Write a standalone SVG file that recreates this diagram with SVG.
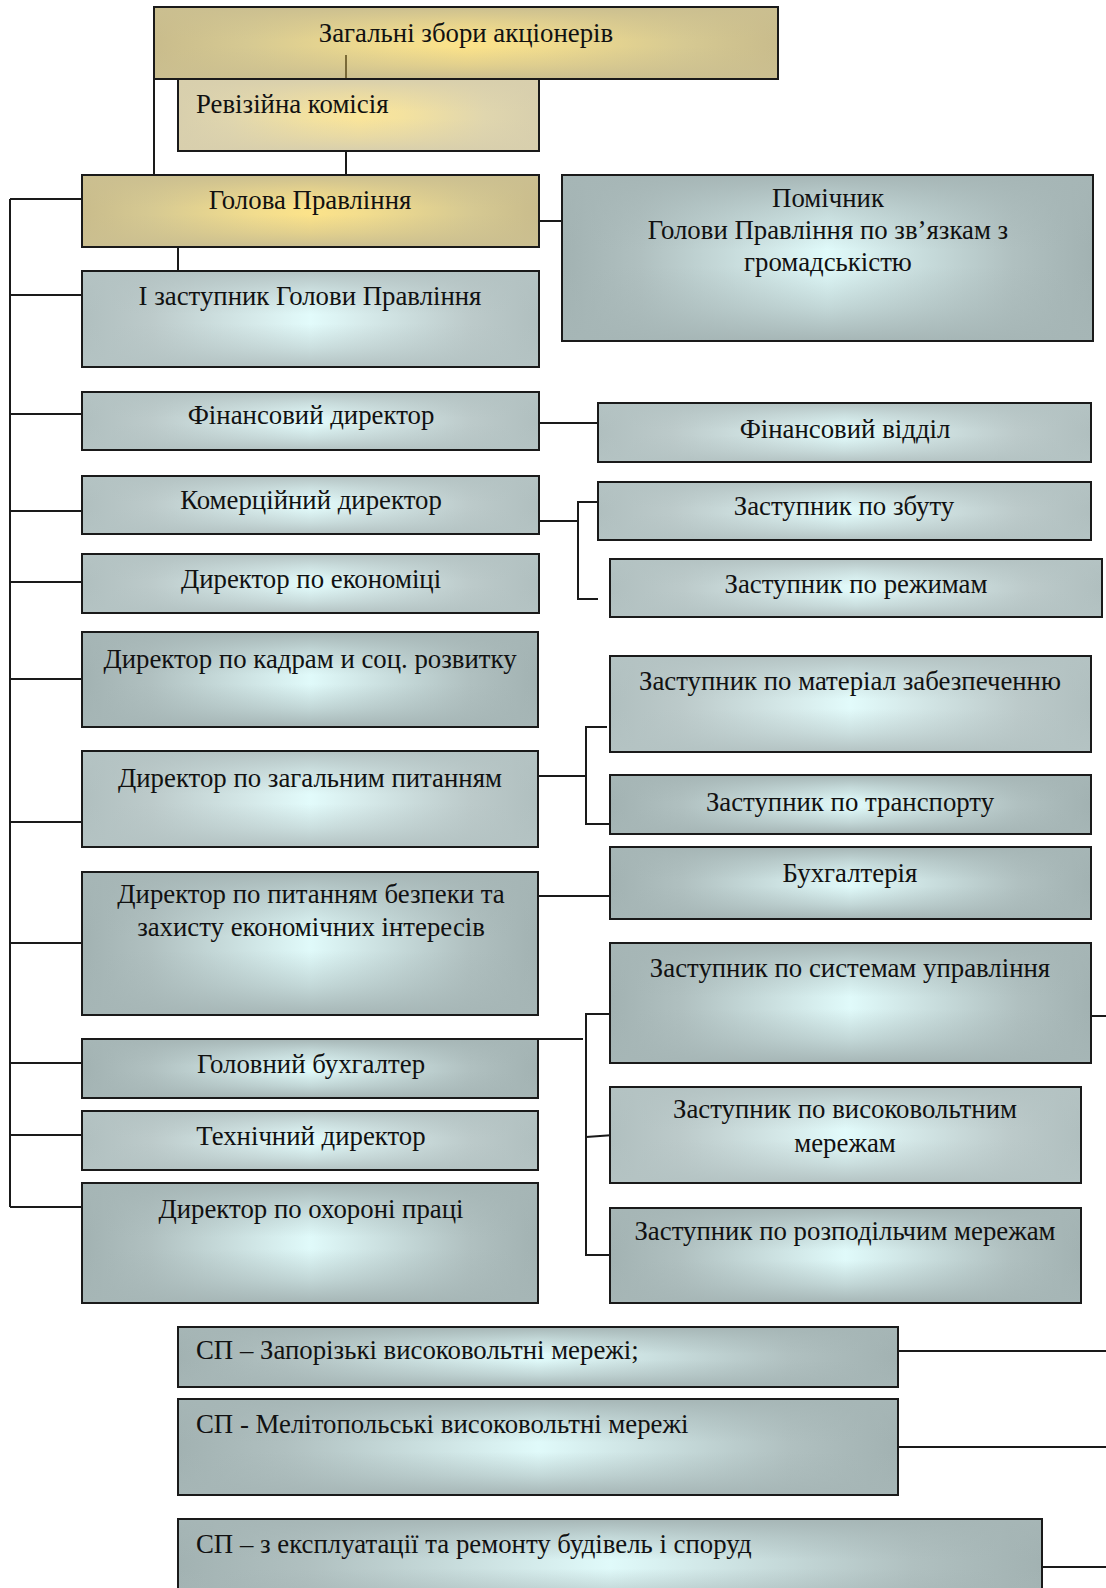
<svg xmlns="http://www.w3.org/2000/svg" width="1106" height="1588" viewBox="0 0 1106 1588">
<defs>
<linearGradient id="bh" x1="0" y1="0" x2="1" y2="0">
<stop offset="0" stop-color="#b0bfbf"/><stop offset="0.15" stop-color="#bccaca"/><stop offset="0.38" stop-color="#d6eaea"/><stop offset="0.5" stop-color="#e2fbfb"/><stop offset="0.62" stop-color="#d6eaea"/><stop offset="0.85" stop-color="#bccaca"/><stop offset="1" stop-color="#b0bfbf"/>
</linearGradient>
<linearGradient id="bv" x1="0" y1="0" x2="0" y2="1">
<stop offset="0" stop-color="#b4c3c3" stop-opacity="1"/><stop offset="0.2" stop-color="#b4c3c3" stop-opacity="0.5"/><stop offset="0.45" stop-color="#b4c3c3" stop-opacity="0"/><stop offset="0.55" stop-color="#b4c3c3" stop-opacity="0"/><stop offset="0.8" stop-color="#b4c3c3" stop-opacity="0.5"/><stop offset="1" stop-color="#b4c3c3" stop-opacity="1"/>
</linearGradient>
<linearGradient id="dh" x1="0" y1="0" x2="1" y2="0">
<stop offset="0" stop-color="#a2b2b2"/><stop offset="0.15" stop-color="#b0c0c0"/><stop offset="0.38" stop-color="#d0e6e6"/><stop offset="0.5" stop-color="#e0fafa"/><stop offset="0.62" stop-color="#d0e6e6"/><stop offset="0.85" stop-color="#b0c0c0"/><stop offset="1" stop-color="#a2b2b2"/>
</linearGradient>
<linearGradient id="dv" x1="0" y1="0" x2="0" y2="1">
<stop offset="0" stop-color="#a6b6b6" stop-opacity="1"/><stop offset="0.2" stop-color="#a6b6b6" stop-opacity="0.5"/><stop offset="0.45" stop-color="#a6b6b6" stop-opacity="0"/><stop offset="0.55" stop-color="#a6b6b6" stop-opacity="0"/><stop offset="0.8" stop-color="#a6b6b6" stop-opacity="0.5"/><stop offset="1" stop-color="#a6b6b6" stop-opacity="1"/>
</linearGradient>
<linearGradient id="gh" x1="0" y1="0" x2="1" y2="0">
<stop offset="0" stop-color="#c9bc8c"/><stop offset="0.15" stop-color="#d6c992"/><stop offset="0.38" stop-color="#f2dd8e"/><stop offset="0.5" stop-color="#fce38a"/><stop offset="0.62" stop-color="#f2dd8e"/><stop offset="0.85" stop-color="#d6c992"/><stop offset="1" stop-color="#c9bc8c"/>
</linearGradient>
<linearGradient id="gv" x1="0" y1="0" x2="0" y2="1">
<stop offset="0" stop-color="#cbbf90" stop-opacity="1"/><stop offset="0.2" stop-color="#cbbf90" stop-opacity="0.5"/><stop offset="0.45" stop-color="#cbbf90" stop-opacity="0"/><stop offset="0.55" stop-color="#cbbf90" stop-opacity="0"/><stop offset="0.8" stop-color="#cbbf90" stop-opacity="0.5"/><stop offset="1" stop-color="#cbbf90" stop-opacity="1"/>
</linearGradient>
<linearGradient id="lh" x1="0" y1="0" x2="1" y2="0">
<stop offset="0" stop-color="#d8cfad"/><stop offset="0.15" stop-color="#e0d6ae"/><stop offset="0.38" stop-color="#f4e29f"/><stop offset="0.5" stop-color="#fae59a"/><stop offset="0.62" stop-color="#f4e29f"/><stop offset="0.85" stop-color="#e0d6ae"/><stop offset="1" stop-color="#d8cfad"/>
</linearGradient>
<linearGradient id="lv" x1="0" y1="0" x2="0" y2="1">
<stop offset="0" stop-color="#d8cfad" stop-opacity="1"/><stop offset="0.2" stop-color="#d8cfad" stop-opacity="0.5"/><stop offset="0.45" stop-color="#d8cfad" stop-opacity="0"/><stop offset="0.55" stop-color="#d8cfad" stop-opacity="0"/><stop offset="0.8" stop-color="#d8cfad" stop-opacity="0.5"/><stop offset="1" stop-color="#d8cfad" stop-opacity="1"/>
</linearGradient>
</defs>
<style>
.b1{fill:url(#bh)}.b2{fill:url(#bv)}
.d1{fill:url(#dh)}.d2{fill:url(#dv)}
.g1{fill:url(#gh)}.g2{fill:url(#gv)}
.l1{fill:url(#lh)}.l2{fill:url(#lv)}
.f{stroke:#1a1a1a;stroke-width:2;fill:none}
text{font-family:"Liberation Serif","Times New Roman",serif;font-size:26.8px;fill:#111}
.c{text-anchor:middle}
.con{stroke:#1a1a1a;stroke-width:2;fill:none}
.ol{stroke:#5a4a1a;stroke-width:1.5;fill:none}
</style>
<rect width="1106" height="1588" fill="#ffffff"/>

<g id="connectors">
<path class="con" d="M10,199 V1207 M10,199 H82 M10,295 H82 M10,414 H82 M10,511 H82 M10,582 H82 M10,679 H82 M10,822 H82 M10,943 H82 M10,1063 H82 M10,1135 H82 M10,1207 H82"/>
<path class="con" d="M154,79 V175 M346,151 V175 M178,247 V271 M539,221 H562 M539,423 H598"/>
<path class="con" d="M539,521 H578 M598,502 H578 V599 H598"/>
<path class="con" d="M538,776 H586 M607,727 H586 V824 H609"/>
<path class="con" d="M538,896 H610"/>
<path class="con" d="M538,1039 H583 M610,1014 H586 V1255 H610 M586,1137 L614,1135"/>
<path class="con" d="M1091,1016 H1106 M898,1351 H1106 M898,1447 H1106 M1042,1567 H1106"/>
</g>

<g id="n1"><rect class="g1" x="154" y="7" width="624" height="72"/><rect class="g2" x="154" y="7" width="624" height="72"/><rect class="f" x="154" y="7" width="624" height="72"/><text class="c" x="466" y="42">Загальні збори акціонерів</text></g>
<path class="ol" d="M346,55 V79"/>
<g id="n2"><rect class="l1" x="178" y="79" width="361" height="72"/><rect class="l2" x="178" y="79" width="361" height="72"/><rect class="f" x="178" y="79" width="361" height="72"/><text x="196" y="113">Ревізійна комісія</text></g>
<g id="n3"><rect class="g1" x="82" y="175" width="457" height="72"/><rect class="g2" x="82" y="175" width="457" height="72"/><rect class="f" x="82" y="175" width="457" height="72"/><text class="c" x="310" y="209">Голова Правління</text></g>
<g id="n4"><rect class="d1" x="562" y="175" width="531" height="166"/><rect class="d2" x="562" y="175" width="531" height="166"/><rect class="f" x="562" y="175" width="531" height="166"/><text class="c" x="828" y="207">Помічник</text><text class="c" x="828" y="239">Голови Правління по зв’язкам з</text><text class="c" x="828" y="271">громадськістю</text></g>
<g id="n5"><rect class="b1" x="82" y="271" width="457" height="96"/><rect class="b2" x="82" y="271" width="457" height="96"/><rect class="f" x="82" y="271" width="457" height="96"/><text class="c" x="310" y="305">І заступник Голови Правління</text></g>
<g id="n6"><rect class="b1" x="82" y="392" width="457" height="58"/><rect class="b2" x="82" y="392" width="457" height="58"/><rect class="f" x="82" y="392" width="457" height="58"/><text class="c" x="311" y="424">Фінансовий директор</text></g>
<g id="n7"><rect class="b1" x="598" y="403" width="493" height="59"/><rect class="b2" x="598" y="403" width="493" height="59"/><rect class="f" x="598" y="403" width="493" height="59"/><text class="c" x="845" y="438">Фінансовий відділ</text></g>
<g id="n8"><rect class="b1" x="82" y="476" width="457" height="58"/><rect class="b2" x="82" y="476" width="457" height="58"/><rect class="f" x="82" y="476" width="457" height="58"/><text class="c" x="311" y="509">Комерційний директор</text></g>
<g id="n9"><rect class="b1" x="598" y="482" width="493" height="58"/><rect class="b2" x="598" y="482" width="493" height="58"/><rect class="f" x="598" y="482" width="493" height="58"/><text class="c" x="844" y="515">Заступник по збуту</text></g>
<g id="n10"><rect class="b1" x="610" y="559" width="492" height="58"/><rect class="b2" x="610" y="559" width="492" height="58"/><rect class="f" x="610" y="559" width="492" height="58"/><text class="c" x="856" y="593">Заступник по режимам</text></g>
<g id="n11"><rect class="b1" x="82" y="554" width="457" height="59"/><rect class="b2" x="82" y="554" width="457" height="59"/><rect class="f" x="82" y="554" width="457" height="59"/><text class="c" x="311" y="588">Директор по економіці</text></g>
<g id="n12"><rect class="d1" x="82" y="632" width="456" height="95"/><rect class="d2" x="82" y="632" width="456" height="95"/><rect class="f" x="82" y="632" width="456" height="95"/><text class="c" x="310" y="668">Директор по кадрам и соц. розвитку</text></g>
<g id="n13"><rect class="b1" x="610" y="656" width="481" height="96"/><rect class="b2" x="610" y="656" width="481" height="96"/><rect class="f" x="610" y="656" width="481" height="96"/><text class="c" x="850" y="690">Заступник по матеріал забезпеченню</text></g>
<g id="n14"><rect class="b1" x="82" y="751" width="456" height="96"/><rect class="b2" x="82" y="751" width="456" height="96"/><rect class="f" x="82" y="751" width="456" height="96"/><text class="c" x="310" y="787">Директор по загальним питанням</text></g>
<g id="n15"><rect class="d1" x="610" y="775" width="481" height="59"/><rect class="d2" x="610" y="775" width="481" height="59"/><rect class="f" x="610" y="775" width="481" height="59"/><text class="c" x="850" y="811">Заступник по транспорту</text></g>
<g id="n16"><rect class="d1" x="610" y="847" width="481" height="72"/><rect class="d2" x="610" y="847" width="481" height="72"/><rect class="f" x="610" y="847" width="481" height="72"/><text class="c" x="850" y="882">Бухгалтерія</text></g>
<g id="n17"><rect class="d1" x="82" y="872" width="456" height="143"/><rect class="d2" x="82" y="872" width="456" height="143"/><rect class="f" x="82" y="872" width="456" height="143"/><text class="c" x="311" y="903">Директор по питанням безпеки та</text><text class="c" x="311" y="936">захисту економічних інтересів</text></g>
<g id="n18"><rect class="d1" x="610" y="943" width="481" height="120"/><rect class="d2" x="610" y="943" width="481" height="120"/><rect class="f" x="610" y="943" width="481" height="120"/><text class="c" x="850" y="977">Заступник по системам управління</text></g>
<g id="n19"><rect class="d1" x="82" y="1039" width="456" height="59"/><rect class="d2" x="82" y="1039" width="456" height="59"/><rect class="f" x="82" y="1039" width="456" height="59"/><text class="c" x="311" y="1073">Головний бухгалтер</text></g>
<g id="n20"><rect class="b1" x="610" y="1087" width="471" height="96"/><rect class="b2" x="610" y="1087" width="471" height="96"/><rect class="f" x="610" y="1087" width="471" height="96"/><text class="c" x="845" y="1118">Заступник по високовольтним</text><text class="c" x="845" y="1152">мережам</text></g>
<g id="n21"><rect class="b1" x="82" y="1111" width="456" height="59"/><rect class="b2" x="82" y="1111" width="456" height="59"/><rect class="f" x="82" y="1111" width="456" height="59"/><text class="c" x="311" y="1145">Технічний директор</text></g>
<g id="n22"><rect class="d1" x="82" y="1183" width="456" height="120"/><rect class="d2" x="82" y="1183" width="456" height="120"/><rect class="f" x="82" y="1183" width="456" height="120"/><text class="c" x="311" y="1218">Директор по охороні праці</text></g>
<g id="n23"><rect class="d1" x="610" y="1208" width="471" height="95"/><rect class="d2" x="610" y="1208" width="471" height="95"/><rect class="f" x="610" y="1208" width="471" height="95"/><text class="c" x="845" y="1240">Заступник по розподільчим мережам</text></g>
<g id="n24"><rect class="d1" x="178" y="1327" width="720" height="60"/><rect class="d2" x="178" y="1327" width="720" height="60"/><rect class="f" x="178" y="1327" width="720" height="60"/><text x="196" y="1359">СП – Запорізькі високовольтні мережі;</text></g>
<g id="n25"><rect class="d1" x="178" y="1399" width="720" height="96"/><rect class="d2" x="178" y="1399" width="720" height="96"/><rect class="f" x="178" y="1399" width="720" height="96"/><text x="196" y="1433">СП - Мелітопольські високовольтні мережі</text></g>
<g id="n26"><rect class="d1" x="178" y="1519" width="864" height="90"/><rect class="d2" x="178" y="1519" width="864" height="90"/><rect class="f" x="178" y="1519" width="864" height="90"/><text x="196" y="1553">СП – з експлуатації та ремонту будівель і споруд</text></g>
</svg>
